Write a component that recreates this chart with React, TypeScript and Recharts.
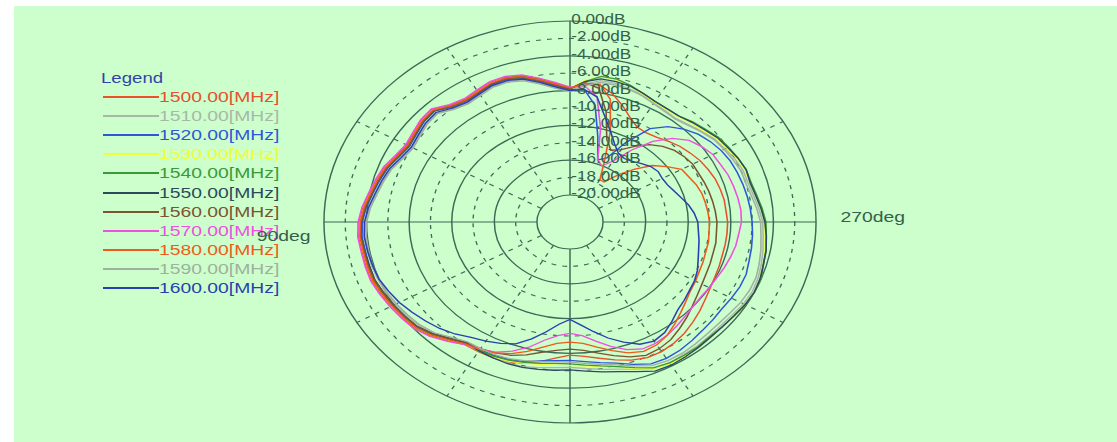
import { RadarChart, Radar, PolarGrid, PolarAngleAxis, PolarRadiusAxis } from 'recharts';

// angle in degrees, 0 = top, counter-clockwise (90deg on the left, 270deg on the right)
const ANGLES = [
  0, 5, 10, 15, 20, 25, 30, 35, 40, 45, 50, 55,
  60, 65, 70, 75, 80, 85, 90, 95, 100, 105, 110, 115,
  120, 125, 130, 135, 140, 145, 150, 155, 160, 165, 170, 175,
  180, 185, 190, 195, 200, 205, 210, 215, 220, 225, 230, 235,
  240, 245, 250, 255, 260, 265, 270, 275, 280, 285, 290, 295,
  300, 305, 310, 315, 320, 325, 330, 335, 340, 345, 350, 355,
];

const DB_TICKS = [0, -2, -4, -6, -8, -10, -12, -14, -16, -18, -20];
const SOLID_RINGS = [0, -4, -8, -12, -16, -20];
const DASHED_RINGS = [-2, -6, -10, -14, -18];
const SOLID_SPOKES = [0, 90, 180, 270];
const DASHED_SPOKES = [30, 60, 120, 150, 210, 240, 300, 330];

const S1500 = [
  -7.7, -7.1, -6.4, -5.7, -5.4, -5.4, -5.7, -5.9, -5.6, -4.8, -4.9, -5.2,
  -5.4, -5.1, -4.6, -4.3, -4.0, -3.6, -3.3, -3.2, -3.3, -3.3, -3.3, -3.5,
  -3.7, -3.9, -4.1, -4.6, -5.3, -5.9, -5.9, -5.9, -6.0, -6.3, -6.8, -7.4,
  -7.8, -7.6, -7.2, -6.7, -6.2, -5.9, -5.9, -6.1, -6.4, -6.8, -7.2, -7.6,
  -7.9, -8.1, -8.2, -8.3, -8.3, -8.3, -8.3, -8.4, -8.4, -8.5, -8.6, -8.8,
  -9.0, -9.3, -9.6, -10.0, -10.4, -10.6, -10.5, -9.8, -8.8, -7.8, -7.1, -7.2,
];
const S1510 = [
  -8.0, -7.6, -6.9, -6.2, -5.9, -5.9, -6.2, -6.4, -6.1, -5.4, -5.5, -5.8,
  -6.0, -5.7, -5.2, -4.9, -4.6, -4.2, -3.9, -3.8, -3.8, -3.8, -3.9, -4.0,
  -4.2, -4.4, -4.6, -5.0, -5.7, -6.2, -6.1, -6.0, -5.9, -5.9, -6.1, -6.3,
  -6.4, -6.2, -5.9, -5.6, -5.1, -4.5, -4.4, -4.5, -4.5, -4.6, -4.6, -4.5,
  -4.3, -4.2, -4.3, -4.5, -4.7, -4.9, -5.0, -5.3, -5.6, -5.8, -5.8, -6.0,
  -6.3, -6.5, -6.9, -7.3, -7.6, -7.5, -7.3, -7.0, -6.8, -6.6, -6.6, -7.2,
];
const S1520 = [
  -7.9, -7.4, -6.7, -6.0, -5.7, -5.7, -6.0, -6.2, -5.9, -5.1, -5.2, -5.5,
  -5.7, -5.4, -4.9, -4.6, -4.3, -3.9, -3.6, -3.5, -3.6, -3.6, -3.6, -3.8,
  -4.0, -4.2, -4.4, -4.9, -5.6, -6.2, -6.2, -6.2, -6.3, -6.5, -6.9, -7.1,
  -7.2, -7.0, -6.7, -6.3, -5.7, -5.1, -5.0, -5.1, -5.3, -5.5, -5.6, -5.7,
  -5.6, -5.5, -5.5, -5.7, -5.8, -5.9, -6.0, -6.1, -6.2, -6.3, -6.4, -6.5,
  -6.7, -7.0, -7.4, -8.0, -8.8, -10.0, -12.5, -15.0, -15.5, -13.0, -9.5, -7.8,
];
const S1530 = [
  -7.7, -7.2, -6.5, -5.8, -5.5, -5.5, -5.8, -6.0, -5.7, -4.9, -5.0, -5.3,
  -5.5, -5.2, -4.7, -4.4, -4.1, -3.7, -3.4, -3.3, -3.4, -3.4, -3.4, -3.6,
  -3.8, -4.0, -4.2, -4.7, -5.4, -6.0, -6.0, -6.0, -6.1, -6.3, -6.5, -6.6,
  -6.6, -6.5, -6.2, -5.8, -5.2, -4.5, -4.3, -4.3, -4.3, -4.4, -4.4, -4.3,
  -4.1, -4.0, -4.1, -4.3, -4.5, -4.7, -4.8, -5.1, -5.4, -5.6, -5.6, -5.8,
  -6.1, -6.3, -6.8, -7.0, -7.3, -7.3, -7.2, -6.9, -6.5, -6.2, -6.1, -6.8,
];
const S1540 = [
  -7.8, -7.3, -6.6, -5.9, -5.6, -5.6, -5.9, -6.1, -5.8, -5.0, -5.1, -5.4,
  -5.6, -5.3, -4.8, -4.5, -4.2, -3.8, -3.5, -3.4, -3.5, -3.5, -3.5, -3.7,
  -3.9, -4.1, -4.3, -4.8, -5.5, -6.1, -6.1, -6.1, -6.2, -6.4, -6.6, -6.8,
  -6.8, -6.6, -6.3, -5.9, -5.3, -4.6, -4.4, -4.4, -4.4, -4.5, -4.4, -4.3,
  -4.1, -4.0, -4.0, -4.3, -4.4, -4.6, -4.7, -5.0, -5.3, -5.5, -5.5, -5.7,
  -5.9, -6.1, -6.5, -6.8, -7.2, -7.2, -7.1, -6.8, -6.4, -6.1, -6.1, -6.9,
];
const S1550 = [
  -7.8, -7.2, -6.5, -5.8, -5.5, -5.6, -5.9, -6.0, -5.7, -5.0, -5.1, -5.4,
  -5.5, -5.2, -4.8, -4.5, -4.2, -3.8, -3.5, -3.4, -3.5, -3.6, -3.6, -3.8,
  -4.0, -4.2, -4.4, -4.9, -5.6, -6.1, -6.0, -5.9, -5.8, -5.8, -5.9, -6.0,
  -6.1, -5.9, -5.6, -5.3, -4.8, -4.2, -4.1, -4.2, -4.3, -4.4, -4.4, -4.3,
  -4.1, -4.0, -4.1, -4.3, -4.4, -4.6, -4.8, -5.1, -5.4, -5.6, -5.5, -5.7,
  -6.0, -6.2, -6.6, -6.9, -7.2, -7.2, -7.1, -6.8, -6.5, -6.4, -6.4, -6.9,
];
const S1560 = [
  -7.8, -7.3, -6.6, -5.9, -5.6, -5.6, -5.9, -6.1, -5.8, -5.0, -5.1, -5.4,
  -5.6, -5.3, -4.8, -4.5, -4.2, -3.8, -3.5, -3.4, -3.5, -3.5, -3.6, -3.8,
  -4.0, -4.2, -4.4, -4.9, -5.6, -6.2, -6.3, -6.5, -6.8, -7.3, -7.9, -8.3,
  -8.5, -8.3, -7.8, -7.2, -6.6, -6.2, -6.3, -6.6, -7.1, -7.6, -8.1, -8.5,
  -8.8, -9.0, -9.1, -9.2, -9.2, -9.3, -9.3, -9.4, -9.5, -9.6, -9.7, -9.8,
  -9.8, -10.0, -10.3, -10.8, -11.5, -12.5, -13.5, -14.0, -13.0, -10.0, -7.5, -7.0,
];
const S1570 = [
  -7.6, -7.0, -6.3, -5.6, -5.3, -5.3, -5.6, -5.8, -5.5, -4.7, -4.8, -5.1,
  -5.3, -5.0, -4.5, -4.2, -3.9, -3.5, -3.2, -3.1, -3.2, -3.2, -3.2, -3.4,
  -3.6, -3.8, -4.0, -4.5, -5.2, -5.9, -6.2, -6.6, -7.3, -8.2, -9.3, -10.0,
  -10.3, -10.0, -9.2, -8.3, -7.5, -7.0, -7.0, -7.2, -7.5, -7.8, -8.0, -8.1,
  -8.0, -7.9, -7.7, -7.5, -7.3, -7.2, -7.0, -7.0, -7.1, -7.2, -7.3, -7.5,
  -7.6, -8.0, -8.5, -9.5, -11.0, -13.0, -15.0, -16.0, -15.5, -12.0, -8.5, -7.4,
];
const S1580 = [
  -7.7, -7.2, -6.5, -5.8, -5.5, -5.5, -5.8, -6.0, -5.7, -4.9, -5.0, -5.3,
  -5.5, -5.2, -4.7, -4.4, -4.1, -3.7, -3.4, -3.3, -3.4, -3.4, -3.4, -3.6,
  -3.8, -4.0, -4.2, -4.7, -5.4, -6.0, -6.2, -6.5, -7.0, -7.7, -8.5, -9.1,
  -9.3, -9.1, -8.5, -7.8, -7.1, -6.7, -6.8, -7.2, -7.8, -8.4, -8.9, -9.3,
  -9.5, -9.7, -9.8, -9.9, -9.9, -10.0, -10.0, -10.1, -10.2, -10.3, -10.5, -10.8,
  -11.0, -12.0, -13.0, -14.5, -16.0, -17.5, -17.5, -15.5, -12.0, -8.5, -7.0, -7.1,
];
const S1590 = [
  -8.1, -7.7, -7.0, -6.3, -6.0, -6.0, -6.3, -6.5, -6.2, -5.5, -5.6, -5.9,
  -6.1, -5.8, -5.3, -5.0, -4.7, -4.3, -4.0, -3.9, -3.9, -3.9, -4.0, -4.1,
  -4.3, -4.5, -4.7, -5.1, -5.8, -6.3, -6.3, -6.3, -6.4, -6.6, -6.8, -7.0,
  -7.0, -6.8, -6.5, -6.1, -5.5, -4.9, -4.7, -4.7, -4.8, -4.9, -4.9, -4.8,
  -4.6, -4.5, -4.5, -4.7, -4.9, -5.1, -5.2, -5.5, -5.8, -6.0, -6.0, -6.2,
  -6.4, -6.6, -7.0, -7.4, -7.7, -7.6, -7.4, -7.1, -6.9, -6.8, -6.8, -7.4,
];
const S1600 = [
  -8.0, -7.5, -6.8, -6.1, -5.8, -5.8, -6.1, -6.3, -6.0, -5.3, -5.4, -5.7,
  -5.9, -5.6, -5.1, -4.8, -4.5, -4.1, -3.8, -3.7, -3.8, -3.9, -4.0, -4.3,
  -4.6, -5.0, -5.4, -5.8, -6.3, -6.9, -7.3, -7.7, -8.2, -9.2, -10.3, -11.3,
  -11.9, -11.2, -10.3, -9.3, -8.4, -7.6, -7.3, -7.6, -8.2, -8.8, -9.1, -9.4,
  -9.6, -9.9, -10.3, -10.6, -10.8, -11.0, -11.1, -11.4, -11.8, -12.3, -12.7, -13.0,
  -13.1, -13.0, -13.2, -13.6, -14.0, -14.2, -14.0, -13.2, -12.0, -10.5, -8.5, -7.8,
];

const SERIES = [
  { key: 'f1500', name: '1500.00[MHz]', color: '#e8502e', values: S1500 },
  { key: 'f1510', name: '1510.00[MHz]', color: '#a8b8a8', values: S1510 },
  { key: 'f1520', name: '1520.00[MHz]', color: '#3056d8', values: S1520 },
  { key: 'f1530', name: '1530.00[MHz]', color: '#eeff3a', values: S1530 },
  { key: 'f1540', name: '1540.00[MHz]', color: '#3a9a3a', values: S1540 },
  { key: 'f1550', name: '1550.00[MHz]', color: '#2c4a5c', values: S1550 },
  { key: 'f1560', name: '1560.00[MHz]', color: '#7b5530', values: S1560 },
  { key: 'f1570', name: '1570.00[MHz]', color: '#f050e0', values: S1570 },
  { key: 'f1580', name: '1580.00[MHz]', color: '#f05a1a', values: S1580 },
  { key: 'f1590', name: '1590.00[MHz]', color: '#a0b0a0', values: S1590 },
  { key: 'f1600', name: '1600.00[MHz]', color: '#2a3fb0', values: S1600 },
];

const rows = ANGLES.map((angle, i) => {
  const row: Record<string, number> = { angle };
  SERIES.forEach((s) => {
    row[s.key] = s.values[i];
  });
  return row;
});

const FONT = '"Liberation Sans", Arial, sans-serif';
const GRID = '#3b6b56';
const SX = 1.224; // the plot is stretched into an ellipse
const CW = 560;
const CX = CW / 2;
const CY = 222;
const R_IN = 27;
const R_OUT = 201;

// grid placement follows the same linear dB -> radius mapping as the radius axis
const ringRadius = (db: number) => R_IN + ((db + 20) / 20) * (R_OUT - R_IN);
const spokeAngle = (deg: number) => 90 + deg;

const DbTick = (props: any) => {
  const { x, y, payload } = props;
  const v = payload.value;
  const label = v === 0 ? '0.00dB' : `${v.toFixed(2)}dB`;
  return (
    <text x={x + 1} y={y - 2} fill="#35604a" fontSize={14} fontFamily={FONT} textAnchor="start" dominantBaseline="central">
      {label}
    </text>
  );
};

const DegTick = (props: any) => {
  const { x, y, payload } = props;
  const v = payload.value;
  if (v !== 90 && v !== 270) return <g />;
  const tx = v === 270 ? x + 12 : x - 3;
  const ty = v === 270 ? y - 5 : y + 14;
  return (
    <text
      x={0}
      y={0}
      transform={`translate(${tx},${ty}) scale(1.13,1)`}
      fill="#35604a"
      fontSize={14}
      fontFamily={FONT}
      textAnchor={v === 270 ? 'start' : 'end'}
      dominantBaseline="central"
    >
      {`${v}deg`}
    </text>
  );
};

const App = () => {
  return (
    <div style={{ position: 'absolute', left: 0, top: 0, width: 1117, height: 442, background: '#ffffff', overflow: 'hidden', fontFamily: FONT }}>
      <div style={{ position: 'absolute', left: 14, top: 6, width: 1103, height: 436, background: '#ccffcc' }} />

      {/* legend */}
      <div style={{ position: 'absolute', left: 101, top: 70, fontSize: 14, lineHeight: '16px', color: '#3344a8', transform: 'scaleX(1.33)', transformOrigin: 'left center' }}>
        Legend
      </div>
      {SERIES.map((s, i) => (
        <div key={s.key} style={{ position: 'absolute', left: 103, top: 97 + i * 19.1 - 8, height: 16 }}>
          <div style={{ position: 'absolute', left: 0, top: 7, width: 56, height: 2, background: s.color }} />
          <div style={{ position: 'absolute', left: 56, top: 0, fontSize: 14, lineHeight: '16px', color: s.color, whiteSpace: 'nowrap', transform: 'scaleX(1.38)', transformOrigin: 'left center' }}>
            {s.name}
          </div>
        </div>
      ))}

      {/* polar plot */}
      <div style={{ position: 'absolute', left: 570 - CX, top: 0, width: CW, height: 442, transform: `scaleX(${SX})`, transformOrigin: '50% 50%' }}>
        <RadarChart
          width={CW}
          height={442}
          cx={CX}
          cy={CY}
          innerRadius={R_IN}
          outerRadius={R_OUT}
          startAngle={90}
          endAngle={450}
          data={rows}
          margin={{ top: 0, right: 0, bottom: 0, left: 0 }}
        >
          <PolarGrid
            cx={CX}
            cy={CY}
            innerRadius={R_IN}
            outerRadius={R_OUT}
            gridType="circle"
            polarAngles={DASHED_SPOKES.map(spokeAngle)}
            polarRadius={DASHED_RINGS.map(ringRadius)}
            stroke={GRID}
            strokeWidth={1.1}
            strokeDasharray="4 5"
          />
          <PolarGrid
            cx={CX}
            cy={CY}
            innerRadius={R_IN}
            outerRadius={R_OUT}
            gridType="circle"
            polarAngles={SOLID_SPOKES.map(spokeAngle)}
            polarRadius={SOLID_RINGS.map(ringRadius)}
            stroke={GRID}
            strokeWidth={1.2}
          />
          <PolarAngleAxis dataKey="angle" type="number" domain={[0, 360]} ticks={SOLID_SPOKES} tick={<DegTick />} tickLine={false} axisLine={false} />
          {SERIES.map((s) => (
            <Radar
              key={s.key}
              name={s.name}
              dataKey={s.key}
              stroke={s.color}
              strokeWidth={1.3}
              fill="none"
              fillOpacity={0}
              dot={false}
              isAnimationActive={false}
            />
          ))}
          <PolarRadiusAxis angle={90} type="number" domain={[-20, 0]} ticks={DB_TICKS} tick={<DbTick />} axisLine={false} />
        </RadarChart>
      </div>
    </div>
  );
};

export default App;
